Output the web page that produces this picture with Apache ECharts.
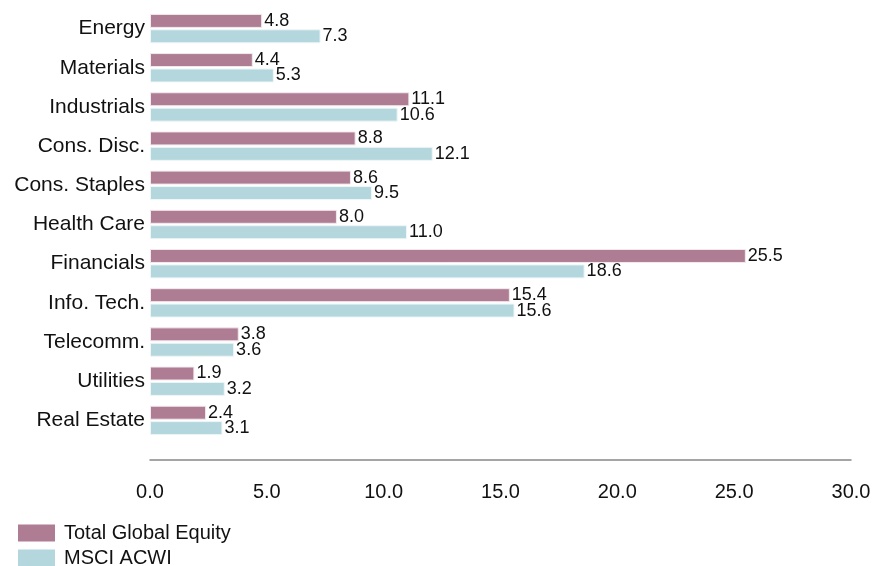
<!DOCTYPE html>
<html>
<head>
<meta charset="utf-8">
<script src="https://cdn.jsdelivr.net/npm/echarts@6/dist/echarts.min.js"></script>
<style>html,body{margin:0;padding:0;background:#fff}#c{width:875px;height:566px}</style>
</head>
<body>
<div id="c"></div>
<script>
const categories = ["Energy","Materials","Industrials","Cons. Disc.","Cons. Staples","Health Care","Financials","Info. Tech.","Telecomm.","Utilities","Real Estate"];
const totalGlobalEquity = [4.8,4.4,11.1,8.8,8.6,8.0,25.5,15.4,3.8,1.9,2.4];
const msciAcwi = [7.3,5.3,10.6,12.1,9.5,11.0,18.6,15.6,3.6,3.2,3.1];
const seriesNames = ["Total Global Equity","MSCI ACWI"];
const xTicks = {min:0,max:30,interval:5};

const FONT = "Liberation Sans, Arial, sans-serif";
const chart = echarts.init(document.getElementById('c'));
const lbl = {show:true,position:'right',distance:2,color:'#111',fontFamily:FONT,fontSize:18,formatter:p=>p.value.toFixed(1)};
chart.setOption({
  animation:false,
  grid:{left:150,right:24,top:9,bottom:126},
  legend:{orient:'vertical',left:18,top:523,height:80,padding:0,itemWidth:37,itemHeight:17,itemGap:5,icon:'rect',
    itemStyle:{borderWidth:0},
    textStyle:{fontFamily:FONT,fontSize:20,color:'#111',lineHeight:17,padding:[0,0,0,4]},data:seriesNames},
  xAxis:{type:'value',min:xTicks.min,max:xTicks.max,interval:xTicks.interval,offset:20,
    axisLine:{show:true,lineStyle:{color:'#888',width:1.5}},axisTick:{show:false},splitLine:{show:false},
    axisLabel:{margin:22,color:'#111',fontFamily:FONT,fontSize:20,formatter:v=>v.toFixed(1)}},
  yAxis:{type:'category',data:categories,inverse:true,axisLine:{show:false},axisTick:{show:false},
    axisLabel:{margin:5,color:'#111',fontFamily:FONT,fontSize:21}},
  series:[
    {name:seriesNames[0],type:'bar',data:totalGlobalEquity,barWidth:14,barGap:'10%',
     itemStyle:{color:'#ae7d94',borderColor:'#f3eaee',borderWidth:1},label:lbl},
    {name:seriesNames[1],type:'bar',data:msciAcwi,barWidth:14,
     itemStyle:{color:'#b4d7de',borderColor:'#eef6f8',borderWidth:1},label:lbl}
  ]
});
</script>
</body>
</html>
